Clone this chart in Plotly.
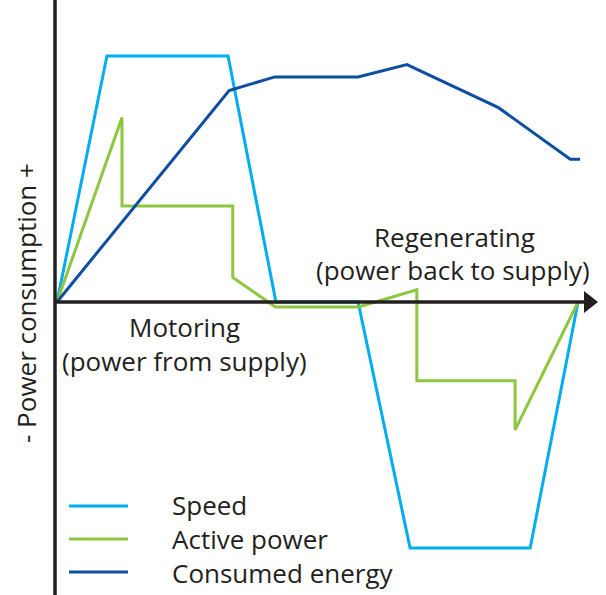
import plotly.graph_objects as go

# ---- data (time in s, values in % of nominal) ----
t_speed = [0, 0.96, 3.29, 4.21, 5.79, 6.79, 9.10, 10.02]
speed = [0, 100, 100, 0, 0, -100, -100, 0]

t_power = [0, 1.25, 1.25, 3.38, 3.38, 4.2, 5.8, 6.92, 6.92, 8.81, 8.81, 10.02]
power = [0, 75, 39, 39, 10, -2, -2, 5, -32, -32, -52, 0]

t_energy = [0, 3.31, 4.19, 5.79, 6.73, 8.49, 9.87, 10.06]
energy = [0, 86, 91.5, 91.5, 96.5, 79, 58, 58]

series_names = ["Speed", "Active power", "Consumed energy"]
colors = ["#00AEEF", "#8DC63F", "#0D4EA2"]

W, H = 606, 595
TXT = "#231F20"
FONT = "Open Sans"
FS = 26

fig = go.Figure()
for (tx, ty), name, c in zip([(t_speed, speed), (t_power, power), (t_energy, energy)],
                             series_names, colors):
    fig.add_trace(go.Scatter(x=tx, y=ty, mode="lines", name=name,
                             line=dict(color=c, width=3), showlegend=False))

def px(x):
    return x / W

def py(y):
    return 1 - y / H

shapes = []
# y axis line
shapes.append(dict(type="line", xref="paper", yref="paper", x0=px(55), x1=px(55),
                   y0=py(0), y1=py(595), line=dict(color=TXT, width=3.5)))
# x axis line
shapes.append(dict(type="line", xref="paper", yref="paper", x0=px(55), x1=px(588),
                   y0=py(302), y1=py(302), line=dict(color=TXT, width=3.5)))
# arrow head
shapes.append(dict(type="path", xref="paper", yref="paper",
                   path=f"M {px(584)},{py(291)} L {px(598)},{py(302)} L {px(584)},{py(313)} Z",
                   fillcolor=TXT, line=dict(color=TXT, width=0)))

# legend (manual)
leg_y = [506, 539, 572]
annotations = []
for c, ly in zip(colors, leg_y):
    shapes.append(dict(type="line", xref="paper", yref="paper", x0=px(69), x1=px(128),
                       y0=py(ly), y1=py(ly), line=dict(color=c, width=3)))
annotations.append(dict(xref="paper", yref="paper", x=px(170), y=py(539),
                        xanchor="left", yanchor="middle", align="left", showarrow=False,
                        text="<br>".join(series_names),
                        font=dict(family=FONT, size=FS, color=TXT)))

def label(text, x, y, size=FS, angle=0):
    annotations.append(dict(xref="paper", yref="paper", x=px(x), y=py(y),
                            xanchor="center", yanchor="middle", showarrow=False,
                            text=text, textangle=angle,
                            font=dict(family=FONT, size=size, color=TXT)))

label("Regenerating", 454, 237)
label("(power back to supply)", 453, 270)
label("Motoring", 185, 327)
label("(power from supply)", 184, 361)
label("- Power consumption +", 26, 303, angle=-90)

x0 = -57 / 52
x1 = (W - 57) / 52
y_top = 302 / 2.46
y_bot = (302 - H) / 2.46

fig.update_layout(
    width=W, height=H,
    margin=dict(l=0, r=0, t=0, b=0),
    paper_bgcolor="white", plot_bgcolor="white",
    xaxis=dict(range=[x0, x1], visible=False, fixedrange=True),
    yaxis=dict(range=[y_bot, y_top], visible=False, fixedrange=True),
    shapes=shapes, annotations=annotations,
)

fig.write_html("out.html", config={"displayModeBar": False},
               post_script="document.body.style.margin='0';document.body.style.overflow='hidden';")
